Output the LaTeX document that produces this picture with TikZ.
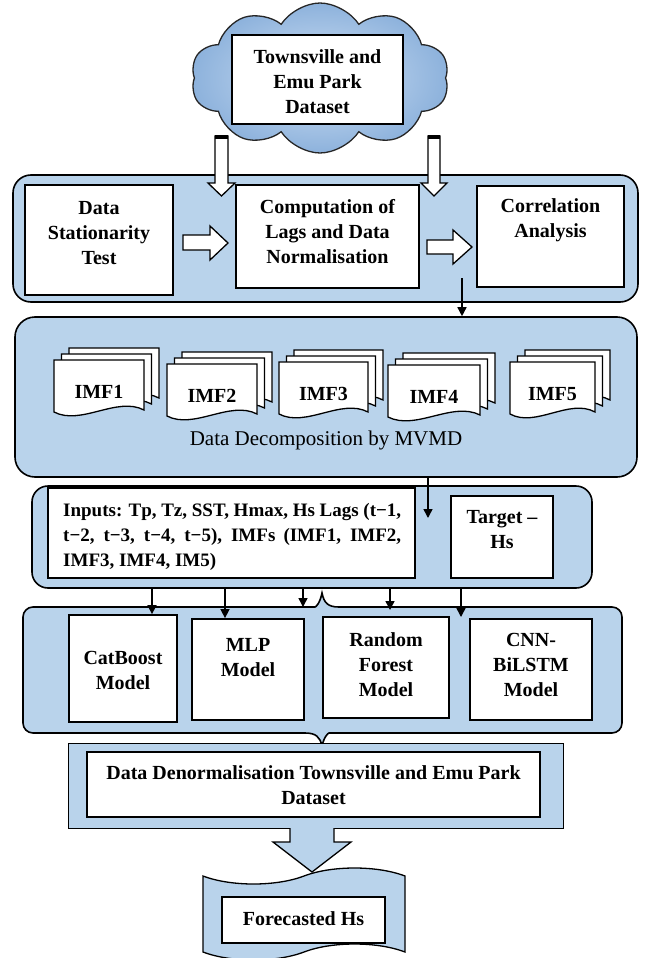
\documentclass[tikz,border=0pt]{standalone}
\usepackage{fontspec}
\setmainfont{Liberation Serif}
\usetikzlibrary{shapes.symbols,arrows.meta,calc}
\definecolor{panelblue}{HTML}{B9D3EB}
\definecolor{cloudin}{HTML}{CFE0F4}
\definecolor{cloudout}{HTML}{8DB2DC}
\newcommand\fsz{\fontsize{20}{25}\selectfont}
\newcommand\fszs{\fontsize{19}{25}\selectfont}
\tikzset{
 panel/.style={draw=black, line width=1.6pt, fill=panelblue},
 wbox/.style={draw=black, line width=1.8pt, fill=white, inner sep=0pt},
 lbl/.style={font=\fsz\bfseries, align=center, inner sep=0pt},
 plainlbl/.style={font=\fontsize{21}{25}\selectfont, align=center, inner sep=0pt},
 arr/.style={-{Triangle[length=9pt,width=9pt]}, line width=1.5pt},
 barrow/.style={draw=black, line width=1.3pt, fill=white, line join=miter},
 doc/.style={draw=black, line width=1.3pt, fill=white},
}
\newcommand\docstack[5]{%
 \foreach \k in {2,1,0}{
   \draw[doc] (#2+7.5*\k,#3-6*\k) -- (#2+7.5*\k+#4,#3-6*\k) -- (#2+7.5*\k+#4,#3-6*\k+50)
     .. controls (#2+7.5*\k+0.7*#4,#3-6*\k+36) and (#2+7.5*\k+0.3*#4,#3-6*\k+66) .. (#2+7.5*\k,#3-6*\k+52) -- cycle;
 }
 \node[lbl] (#1) at (#2+#4/2,#3+32) {#5};
}
\begin{document}
\begin{tikzpicture}[x=1pt,y=-1pt]
\useasboundingbox (0,0) rectangle (655,958);
% cloud source
\node[cloud, cloud puffs=10, cloud puff arc=115, draw=black!85, line width=1.3pt, inner color=cloudin, outer color=cloudout,
      minimum width=258pt, minimum height=150pt, inner sep=0pt] (cloud) at (320,78) {};
\node[wbox, minimum width=171pt, minimum height=89pt] (src) at (317.5,79.5) {};
\node[lbl] (srct) at (317.5,82) {Townsville and\\Emu Park\\Dataset};

% panel 1
\node[panel, rounded corners=18pt, minimum width=625pt, minimum height=127pt] (p1) at (325.5,238.5) {};
\node[wbox, minimum width=148pt, minimum height=110pt] (stat) at (99,240) {};
\node[lbl] (statt) at (99,233) {Data\\Stationarity\\Test};
\node[wbox, minimum width=183pt, minimum height=103pt] (comp) at (327.5,236.5) {};
\node[lbl] (compt) at (327.5,232) {Computation of\\Lags and Data\\Normalisation};
\node[wbox, minimum width=147pt, minimum height=101pt] (corr) at (550.5,236.5) {};
\node[lbl] (corrt) at (550.5,220.5) {Correlation\\Analysis};

% block arrows
\draw[barrow] (183,235) -- (210,235) -- (210,226) -- (228,243) -- (210,260) -- (210,250) -- (183,250) -- cycle;
\draw[barrow] (427,240) -- (453,240) -- (453,230) -- (472,247) -- (453,264) -- (453,254) -- (427,254) -- cycle;
\draw[barrow] (215,136) -- (215,183) -- (208,183) -- (221.5,196) -- (235,183) -- (228,183) -- (228,136) -- cycle;
\draw[line width=4pt] (215,137) -- (228,137);
\draw[barrow] (428,136) -- (428,183) -- (421,183) -- (434,196) -- (447,183) -- (440,183) -- (440,136) -- cycle;
\draw[line width=4pt] (428,137) -- (440,137);

% panel 2
\node[panel, rounded corners=20pt, minimum width=622pt, minimum height=160pt] (p2) at (326,397) {};
\coordinate (c1) at (462,278);
\draw[arr] (c1) -- (p2.north -| c1);
\docstack{imf1}{54}{360}{90}{IMF1}
\docstack{imf2}{167}{364}{90}{IMF2}
\docstack{imf3}{279}{362}{89}{IMF3}
\docstack{imf4}{388}{365}{92}{IMF4}
\docstack{imf5}{510}{362}{85}{IMF5}
\node[plainlbl] (dec) at (326,440) {Data Decomposition by MVMD};

% panel 3
\node[panel, rounded corners=16pt, minimum width=560pt, minimum height=102pt] (p3) at (312,537) {};
\coordinate (c2) at (428,477);
\coordinate (c2e) at (428,518);
\draw[arr] (c2) -- (c2e);
\node[wbox, minimum width=367pt, minimum height=90pt] (inp) at (231.5,533) {};
\node[lbl, font=\fszs\bfseries, align=left, anchor=west] (inpt) at (63,537) {\makebox[338pt][s]{Inputs: Tp, Tz, SST, Hmax, Hs Lags (t−1,}\\\makebox[338pt][s]{t−2, t−3, t−4, t−5), IMFs (IMF1, IMF2,}\\IMF3, IMF4, IM5)};
\node[wbox, minimum width=102pt, minimum height=82pt] (tgt) at (502,537) {};
\node[lbl] (tgtt) at (502,530) {Target –\\Hs};

% panel 4 (with braces)
\draw[panel] (23,670) [rounded corners=10pt] -- (23,607) -- (305,607) [sharp corners]
   .. controls (316,607) and (320,603) .. (322,593) .. controls (324,603) and (328,607) .. (339,607)
   [rounded corners=10pt] -- (622,607) -- (622,733) -- (339,733) [sharp corners]
   .. controls (328,733) and (324,737) .. (322,746) .. controls (320,737) and (316,733) .. (305,733)
   [rounded corners=10pt] -- (23,733) -- (23,670);
\node[wbox, minimum width=108pt, minimum height=107pt] (cat) at (123,668.5) {};
\node[lbl] (catt) at (123,670) {CatBoost\\Model};
\node[wbox, minimum width=112pt, minimum height=101pt] (mlp) at (248,669.5) {};
\node[lbl] (mlpt) at (248,658) {MLP\\Model};
\node[wbox, minimum width=126pt, minimum height=101pt] (rf) at (386,667.5) {};
\node[lbl] (rft) at (386,665) {Random\\Forest\\Model};
\node[wbox, minimum width=122pt, minimum height=101pt] (cnn) at (531,669.5) {};
\node[lbl] (cnnt) at (531,665) {CNN-\\BiLSTM\\Model};

\coordinate (m1) at (152,588);
\coordinate (m2) at (225,588);
\coordinate (m3) at (303,588);
\coordinate (m3e) at (303,607);
\coordinate (m4) at (390,588);
\coordinate (m4e) at (390,610);
\coordinate (m5) at (461,588);
\coordinate (m5e) at (461,617);
\draw[arr] (m1) -- (m1 |- cat.north);
\draw[arr] (m2) -- (m2 |- mlp.north);
\draw[arr] (m3) -- (m3e);
\draw[arr] (m4) -- (m4e);
\draw[arr] (m5) -- (m5e);

% denormalisation
\node[panel, line width=1.3pt, minimum width=495pt, minimum height=85pt, anchor=north west] (dnf) at (68,743) {};
\node[wbox, minimum width=453pt, minimum height=65pt] (dn) at (313.5,784.5) {};
\node[lbl] (dnt) at (313.5,785) {Data Denormalisation Townsville and Emu Park\\Dataset};

% big arrow
\draw[panel, line width=1.3pt, line join=miter] (290,828) -- (290,842) -- (273,842) -- (312,872) -- (351,842) -- (334,842) -- (334,828);

% forecast banner
\node[tape, draw=black, line width=1.3pt, fill=panelblue, minimum width=202pt, minimum height=92pt,
      tape bend height=16pt, inner sep=0pt] (ban) at (304,914) {};
\node[wbox, minimum width=163pt, minimum height=46pt] (fc) at (303.5,920) {};
\node[lbl] (fct) at (303.5,919) {Forecasted Hs};
\end{tikzpicture}
\end{document}
